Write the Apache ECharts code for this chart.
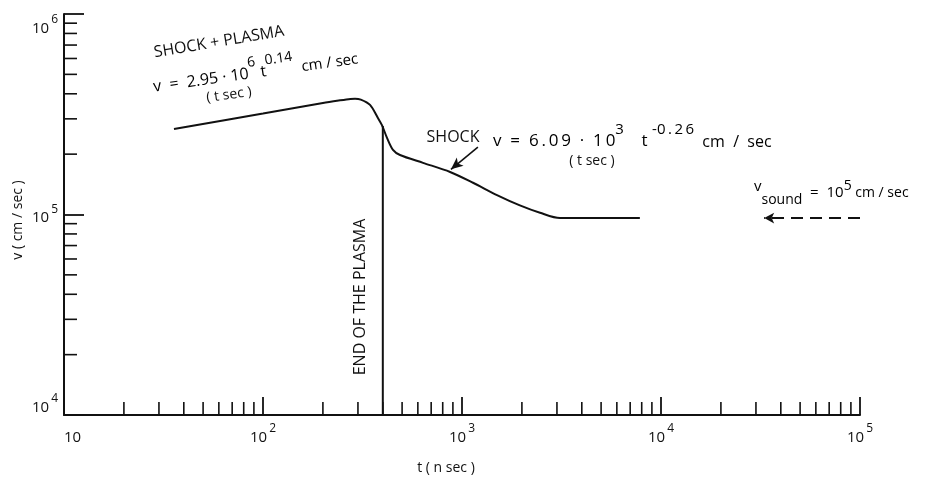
<!DOCTYPE html>
<html>
<head>
<meta charset="utf-8">
<script src="https://cdn.jsdelivr.net/npm/echarts@6/dist/echarts.min.js"></script>
<style>html,body{margin:0;padding:0;background:#fff;}#c{width:925px;height:481px;}</style>
</head>
<body>
<div id="c"></div>
<script>
// ---- data ----
var curveT = [35.7, 100, 200, 244, 275, 290, 310, 345, 378, 396, 420, 450, 488, 637, 871, 1136, 1499, 1954, 2466, 3105, 3920, 7830];
var curveV = [2.67e5, 3.19e5, 3.60e5, 3.71e5, 3.77e5, 3.78e5, 3.74e5, 3.52e5, 3.03e5, 2.79e5, 2.41e5, 2.10e5, 1.98e5, 1.81e5, 1.63e5, 1.44e5, 1.25e5, 1.11e5, 1.02e5, 9.6e4, 9.6e4, 9.6e4];
var plasmaEndT = [400, 400];
var plasmaEndV = [1e4, 2.76e5];
var soundArrowT = [1.0e5, 3.3e4];
var soundArrowV = [9.6e4, 9.6e4];
var shockArrowT = [1202, 880];
var shockArrowV = [2.17e5, 1.68e5];
var xMinorTicks = [20,30,40,50,60,70,80,90, 200,300,400,500,600,700,800,900, 2000,3000,4000,5000,6000,7000,8000,9000, 20000,30000,40000,50000,60000,70000,80000,90000];
var yMinorTicks = [2e4,3e4,4e4,5e4,6e4,7e4,8e4,9e4, 2e5,3e5,4e5,5e5,6e5,7e5,8e5,9e5];
var xRange = [10, 1e5];
var yRange = [1e4, 1e6];

var FONT = '"Open Sans", sans-serif';
var TS = '\u2009';
function powLabel(v) {
  var e = Math.round(Math.log10(v));
  if (e === 1) return '{b|10}';
  return '{b|10}{s|' + e + '}';
}
var labelRich = {
  b: {fontSize: 15, fontFamily: FONT, color: '#111', lineHeight: 22, verticalAlign: 'bottom'},
  s: {fontSize: 12, fontFamily: FONT, color: '#111', lineHeight: 22, verticalAlign: 'top', padding: [0,0,0,2]}
};

var chart = echarts.init(document.getElementById('c'), null, {renderer: 'canvas'});

function minorTickSeries(values, isX) {
  return {
    type: 'custom',
    silent: true,
    clip: false,
    data: values.map(function (v) { return isX ? [v, yRange[0]] : [xRange[0], v]; }),
    renderItem: function (params, api) {
      var p = api.coord([api.value(0), api.value(1)]);
      var p2 = isX ? [p[0], p[1] - 13] : [p[0] + 13, p[1]];
      return {type: 'line', shape: {x1: p[0], y1: p[1], x2: p2[0], y2: p2[1]}, style: {stroke: '#111', lineWidth: 1.6}};
    }
  };
}

var eqRich = {
  n: {fontSize: 16, fontFamily: FONT, color: '#111', lineHeight: 26, verticalAlign: 'bottom'},
  u: {fontSize: 15, fontFamily: FONT, color: '#111', lineHeight: 26, verticalAlign: 'bottom'},
  s: {fontSize: 14, fontFamily: FONT, color: '#111', lineHeight: 26, verticalAlign: 'top'}
};
var eq2Rich = {
  n: {fontSize: 17, fontFamily: FONT, color: '#111', lineHeight: 28, verticalAlign: 'bottom'},
  u: {fontSize: 16, fontFamily: FONT, color: '#111', lineHeight: 28, verticalAlign: 'bottom'},
  s: {fontSize: 15, fontFamily: FONT, color: '#111', lineHeight: 28, verticalAlign: 'top'}
};
var shockEq = '{n|v  =  6' + TS + '.' + TS + '0' + TS + '9  ·  1' + TS + '0}{s|3}{n|    t }{s|-0' + TS + '.' + TS + '2' + TS + '6}{u|  cm  /  sec}';

chart.setOption({
  animation: false,
  backgroundColor: '#fff',
  grid: {left: 64, right: 65, top: 14, bottom: 66, containLabel: false, outerBoundsMode: 'none'},
  xAxis: {
    type: 'log', logBase: 10, min: xRange[0], max: xRange[1],
    axisLine: {show: true, onZero: false, lineStyle: {color: '#111', width: 2}},
    axisTick: {show: true, inside: true, length: 18, lineStyle: {color: '#111', width: 1.8}},
    splitLine: {show: false},
    axisLabel: {margin: 8, formatter: powLabel, rich: labelRich, alignMinLabel: 'left'},
    name: 't ( n sec )', nameLocation: 'middle', nameGap: 46,
    nameTextStyle: {fontSize: 14, fontFamily: FONT, color: '#111', padding: [0, 32, 0, 0]}
  },
  yAxis: {
    type: 'log', logBase: 10, min: yRange[0], max: yRange[1],
    axisLine: {show: true, onZero: false, lineStyle: {color: '#111', width: 2}},
    axisTick: {show: true, inside: true, length: 20, lineStyle: {color: '#111', width: 1.8}},
    splitLine: {show: false},
    axisLabel: {margin: 6, formatter: powLabel, rich: labelRich, verticalAlignMinLabel: 'bottom', verticalAlignMaxLabel: 'top'},
    splitNumber: 2
  },
  series: [
    {
      type: 'line', data: curveT.map(function (t, i) { return [t, curveV[i]]; }),
      showSymbol: false, smooth: 0.3, lineStyle: {color: '#111', width: 2}
    },
    {
      type: 'line', data: plasmaEndT.map(function (t, i) { return [t, plasmaEndV[i]]; }),
      showSymbol: false, lineStyle: {color: '#111', width: 2}
    },
    {
      type: 'line', data: [], silent: true,
      markLine: {
        silent: true, animation: false,
        label: {show: false},
        emphasis: {disabled: true},
        data: [
          [{coord: [soundArrowT[0], soundArrowV[0]], symbol: 'none', lineStyle: {type: [12, 7], color: '#111', width: 2}},
           {coord: [soundArrowT[1], soundArrowV[1]], symbol: 'arrow', symbolSize: [8, 10]}],
          [{coord: [shockArrowT[0], shockArrowV[0]], symbol: 'none', lineStyle: {type: 'solid', color: '#111', width: 1.6}},
           {coord: [shockArrowT[1], shockArrowV[1]], symbol: 'arrow', symbolSize: [8, 12]}]
        ]
      }
    },
    minorTickSeries(xMinorTicks, true),
    minorTickSeries(yMinorTicks, false)
  ],
  graphic: [
    {type: 'text', x: 18, y: 220, rotation: Math.PI / 2,
     style: {text: 'v ( cm / sec )', fontSize: 14, fontFamily: FONT, fill: '#111', align: 'center', verticalAlign: 'middle'}},
    {type: 'text', x: 219, y: 42, rotation: 9.5 * Math.PI / 180,
     style: {text: 'SHOCK + PLASMA', fontSize: 16, fontFamily: FONT, fill: '#111', align: 'center', verticalAlign: 'middle'}},
    {type: 'text', x: 255, y: 68, rotation: 8 * Math.PI / 180,
     style: {text: '{n|v  =  2.95 · 10}{s|6}{n| t}{s|0.14}{u|  cm / sec}', rich: eqRich, align: 'center', verticalAlign: 'middle'}},
    {type: 'text', x: 229, y: 95, rotation: 8 * Math.PI / 180,
     style: {text: '( t sec )', fontSize: 14, fontFamily: FONT, fill: '#111', align: 'center', verticalAlign: 'middle'}},
    {type: 'text', x: 453, y: 137,
     style: {text: 'SHOCK', fontSize: 16, fontFamily: FONT, fill: '#111', align: 'center', verticalAlign: 'middle'}},
    {type: 'text', x: 493, y: 136,
     style: {text: shockEq, rich: eq2Rich, align: 'left', verticalAlign: 'middle'}},
    {type: 'text', x: 592, y: 161,
     style: {text: '( t sec )', fontSize: 14, fontFamily: FONT, fill: '#111', align: 'center', verticalAlign: 'middle'}},
    {type: 'text', x: 360, y: 297, rotation: Math.PI / 2,
     style: {text: 'END OF THE PLASMA', fontSize: 16, fontFamily: FONT, fill: '#111', align: 'center', verticalAlign: 'middle'}},
    {type: 'text', x: 754, y: 193,
     style: {text: '{v|v}{d|sound}{n|  =  10}{s|5}{u| cm / sec}', align: 'left', verticalAlign: 'middle',
       rich: {
         v: {fontSize: 15, fontFamily: FONT, color: '#111', lineHeight: 28, verticalAlign: 'top'},
         d: {fontSize: 14, fontFamily: FONT, color: '#111', lineHeight: 28, verticalAlign: 'bottom'},
         n: {fontSize: 15, fontFamily: FONT, color: '#111', lineHeight: 28, verticalAlign: 'middle'},
         s: {fontSize: 14, fontFamily: FONT, color: '#111', lineHeight: 28, verticalAlign: 'top'},
         u: {fontSize: 14, fontFamily: FONT, color: '#111', lineHeight: 28, verticalAlign: 'middle'}
       }}}
  ]
});
</script>
</body>
</html>
